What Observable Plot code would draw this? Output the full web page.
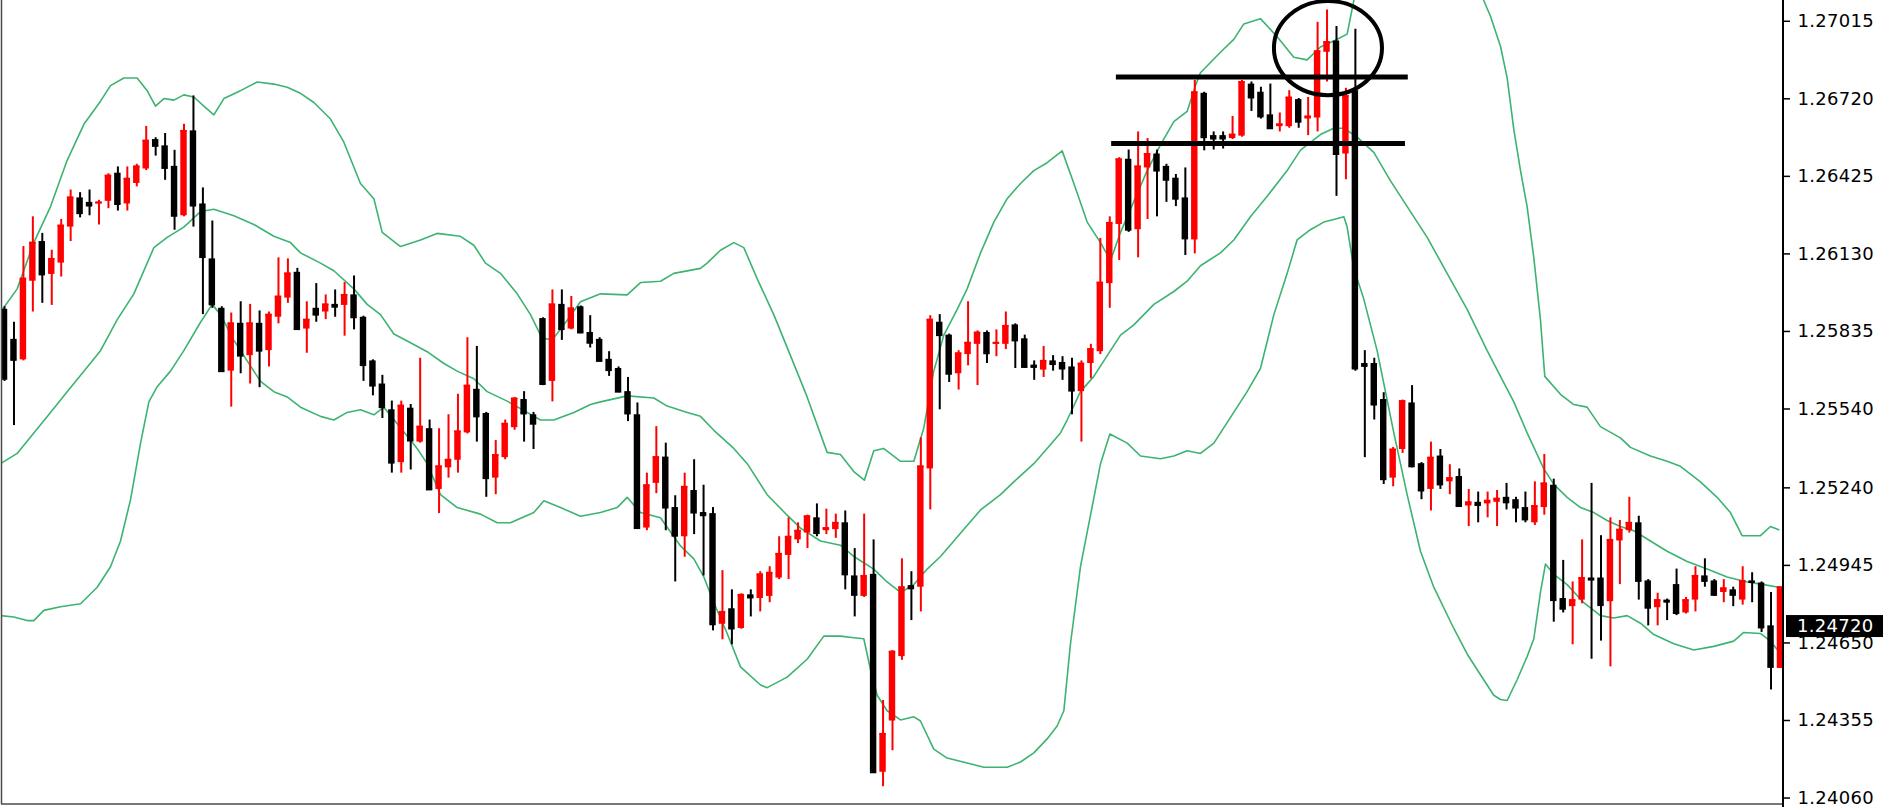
<!DOCTYPE html>
<html>
<head>
<meta charset="utf-8">
<script src="https://cdn.jsdelivr.net/npm/d3@7"></script>
<script src="https://cdn.jsdelivr.net/npm/@observablehq/plot@0.6"></script>
<style>
html, body { margin: 0; padding: 0; background: #fff; overflow: hidden; }
#chart svg { display: block; }
</style>
</head>
<body>
<div id="chart"></div>
<script>
// ---- Candle data (one entry per bar, oldest first) ----
const opens = [
1.25919,1.25805,1.25727,1.26026,1.26177,1.26052,1.26095,1.26232,1.26343,1.26326,
1.26320,1.26330,1.26437,1.26320,1.26398,1.26453,1.26565,1.26541,1.26463,1.26275,
1.26598,1.26320,1.26111,1.25923,1.25684,1.25866,1.25743,1.25866,1.25762,1.25889,
1.25962,1.26060,1.25844,1.25923,1.25909,1.25938,1.25934,1.25974,1.25889,1.25723,
1.25635,1.25537,1.25336,1.25543,1.25414,1.25465,1.25234,1.25316,1.25345,1.25449,
1.25615,1.25523,1.25277,1.25355,1.25469,1.25576,1.25518,1.25884,1.25645,1.25938,
1.25844,1.25929,1.25831,1.25805,1.25729,1.25694,1.25606,1.25518,1.25087,1.25257,
1.25357,1.25165,1.25054,1.25230,1.25146,1.25142,1.24721,1.24780,1.24705,1.24833,
1.24819,1.24827,1.24897,1.24983,1.25042,1.25068,1.25126,1.25077,1.25081,1.25107,
1.24905,1.24827,1.24911,1.24158,1.24353,1.24598,1.24868,1.24862,1.25312,1.25870,
1.25821,1.25674,1.25747,1.25786,1.25831,1.25786,1.25786,1.25860,1.25807,1.25707,
1.25688,1.25723,1.25717,1.25700,1.25606,1.25713,1.25758,1.26017,1.26242,1.26490,
1.26222,1.26457,1.26510,1.26463,1.26418,1.26343,1.26183,1.26741,1.26580,1.26580,
1.26569,1.26578,1.26776,1.26745,1.26659,1.26614,1.26614,1.26717,1.26643,1.26647,
1.26897,1.26940,1.26510,1.26751,1.25713,1.25713,1.25576,1.25277,1.25386,1.25563,
1.25332,1.25234,1.25361,1.25263,1.25283,1.25171,1.25185,1.25179,1.25185,1.25204,
1.25195,1.25165,1.25107,1.25165,1.25250,1.24819,1.24788,1.24813,1.24897,1.24897,
1.24807,1.25038,1.25077,1.25107,1.24886,1.24784,1.24813,1.24872,1.24764,1.24813,
1.24905,1.24886,1.24842,1.24852,1.24813,1.24886,1.24878,1.24715,1.24553
];
const highs = [
1.25929,1.25870,1.26158,1.26271,1.26208,1.26144,1.26261,1.26373,1.26363,1.26373,
1.26334,1.26435,1.26461,1.26461,1.26471,1.26615,1.26572,1.26588,1.26524,1.26623,
1.26731,1.26381,1.26255,1.25929,1.25905,1.25948,1.25938,1.25913,1.25909,1.26115,
1.26111,1.26075,1.25948,1.26017,1.25974,1.25993,1.26021,1.26046,1.25893,1.25727,
1.25668,1.25570,1.25570,1.25557,1.25733,1.25498,1.25465,1.25518,1.25596,1.25811,
1.25778,1.25527,1.25420,1.25498,1.25584,1.25606,1.25527,1.25887,1.25993,1.25993,
1.25968,1.25932,1.25895,1.25811,1.25758,1.25700,1.25660,1.25563,1.25296,1.25473,
1.25410,1.25210,1.25296,1.25347,1.25250,1.25165,1.24925,1.24852,1.24837,1.24852,
1.24921,1.24940,1.25054,1.25126,1.25107,1.25136,1.25179,1.25159,1.25140,1.25152,
1.25009,1.25140,1.25042,1.24431,1.24621,1.24970,1.24921,1.25430,1.25895,1.25899,
1.25825,1.25762,1.25948,1.25837,1.25837,1.25841,1.25909,1.25864,1.25821,1.25723,
1.25778,1.25743,1.25739,1.25733,1.25723,1.25786,1.26189,1.26271,1.26496,1.26525,
1.26594,1.26569,1.26525,1.26471,1.26432,1.26457,1.26790,1.26745,1.26594,1.26594,
1.26653,1.26790,1.26784,1.26764,1.26776,1.26666,1.26751,1.26721,1.26725,1.27011,
1.27058,1.26995,1.26760,1.26985,1.25762,1.25733,1.25602,1.25394,1.25574,1.25629,
1.25336,1.25414,1.25386,1.25328,1.25312,1.25234,1.25224,1.25224,1.25230,1.25257,
1.25204,1.25224,1.25263,1.25367,1.25273,1.24964,1.24882,1.25042,1.25257,1.25058,
1.25126,1.25116,1.25204,1.25132,1.24891,1.24839,1.24817,1.24931,1.24823,1.24940,
1.24970,1.24891,1.24891,1.24862,1.24940,1.24917,1.24882,1.24842,1.24862
];
const lows = [
1.25645,1.25477,1.25723,1.25909,1.25942,1.25934,1.26042,1.26177,1.26267,1.26275,
1.26240,1.26302,1.26293,1.26293,1.26385,1.26447,1.26502,1.26410,1.26220,1.26271,
1.26232,1.25899,1.25923,1.25680,1.25547,1.25674,1.25635,1.25621,1.25700,1.25864,
1.25942,1.25841,1.25752,1.25870,1.25880,1.25889,1.25817,1.25841,1.25645,1.25590,
1.25504,1.25296,1.25296,1.25308,1.25410,1.25230,1.25142,1.25277,1.25296,1.25445,
1.25414,1.25204,1.25214,1.25347,1.25459,1.25414,1.25386,1.25629,1.25567,1.25801,
1.25841,1.25827,1.25772,1.25719,1.25664,1.25602,1.25492,1.25083,1.25077,1.25218,
1.25077,1.24882,1.24976,1.25062,1.24905,1.24696,1.24662,1.24643,1.24702,1.24749,
1.24768,1.24803,1.24891,1.24891,1.25028,1.25009,1.25054,1.25062,1.25048,1.24852,
1.24749,1.24823,1.24154,1.24103,1.24240,1.24584,1.24735,1.24768,1.25156,1.25537,
1.25641,1.25612,1.25704,1.25629,1.25713,1.25739,1.25766,1.25694,1.25694,1.25649,
1.25660,1.25684,1.25649,1.25518,1.25414,1.25655,1.25747,1.25923,1.26105,1.26212,
1.26115,1.26261,1.26271,1.26326,1.26310,1.26124,1.26130,1.26522,1.26525,1.26529,
1.26565,1.26574,1.26672,1.26643,1.26604,1.26594,1.26608,1.26608,1.26580,1.26594,
1.26784,1.26349,1.26412,1.25684,1.25355,1.25498,1.25253,1.25244,1.25371,1.25316,
1.25195,1.25152,1.25234,1.25214,1.25165,1.25093,1.25107,1.25126,1.25093,1.25156,
1.25107,1.25107,1.25097,1.25136,1.24729,1.24764,1.24643,1.24799,1.24588,1.24657,
1.24559,1.24872,1.25068,1.24813,1.24715,1.24715,1.24735,1.24754,1.24760,1.24768,
1.24862,1.24827,1.24803,1.24788,1.24794,1.24803,1.24690,1.24471,1.24553
];
const closes = [
1.25655,1.25727,1.26036,1.26173,1.26052,1.26111,1.26238,1.26345,1.26285,1.26314,
1.26326,1.26428,1.26320,1.26416,1.26463,1.26561,1.26541,1.26457,1.26275,1.26598,
1.26314,1.26118,1.25938,1.25684,1.25866,1.25743,1.25866,1.25762,1.25899,1.25968,
1.26056,1.25844,1.25880,1.25899,1.25938,1.25929,1.25974,1.25889,1.25707,1.25629,
1.25547,1.25336,1.25553,1.25420,1.25473,1.25234,1.25322,1.25347,1.25455,1.25629,
1.25512,1.25277,1.25365,1.25484,1.25580,1.25523,1.25484,1.25635,1.25938,1.25844,
1.25923,1.25831,1.25792,1.25723,1.25688,1.25606,1.25523,1.25087,1.25250,1.25357,
1.25165,1.25058,1.25244,1.25146,1.25136,1.24721,1.24768,1.24705,1.24833,1.24823,
1.24911,1.24917,1.24989,1.25054,1.25077,1.25132,1.25068,1.25087,1.25107,1.24911,
1.24833,1.24905,1.24158,1.24304,1.24617,1.24862,1.24858,1.25322,1.25880,1.25821,
1.25674,1.25752,1.25792,1.25831,1.25752,1.25792,1.25856,1.25801,1.25700,1.25700,
1.25723,1.25711,1.25694,1.25610,1.25713,1.25768,1.26021,1.26248,1.26490,1.26222,
1.26463,1.26510,1.26447,1.26412,1.26340,1.26189,1.26745,1.26574,1.26569,1.26569,
1.26584,1.26784,1.26725,1.26653,1.26608,1.26623,1.26725,1.26633,1.26653,1.26901,
1.26936,1.26510,1.26731,1.25694,1.25704,1.25557,1.25273,1.25386,1.25570,1.25322,
1.25230,1.25355,1.25253,1.25277,1.25171,1.25185,1.25175,1.25191,1.25199,1.25185,
1.25165,1.25120,1.25171,1.25257,1.24813,1.24780,1.24813,1.24897,1.24891,1.24794,
1.25042,1.25081,1.25107,1.24886,1.24784,1.24813,1.24807,1.24764,1.24813,1.24905,
1.24886,1.24833,1.24858,1.24833,1.24886,1.24882,1.24709,1.24559,1.24862
];

// ---- Bollinger bands (bar position, price) ----
const upperX = [-0.42,1.34,3.10,4.87,6.63,8.40,10.16,11.22,12.63,14.04,15.10,15.98,16.87,17.93,18.98,20.04,21.10,22.16,23.22,24.98,26.75,28.51,29.92,31.33,32.75,34.51,35.92,37.68,39.10,39.98,41.92,44.04,45.79,48.26,49.68,50.91,52.50,54.27,55.68,56.74,57.44,58.15,59.21,60.97,63.09,65.91,67.32,69.44,70.85,73.67,74.38,75.79,77.20,78.26,79.67,81.43,83.20,84.96,87.08,88.49,89.90,91.02,92.02,93.05,94.85,96.26,97.32,98.37,99.43,100.85,101.90,103.32,104.73,106.14,107.55,108.96,110.37,111.96,113.20,114.61,116.02,117.08,118.14,119.55,120.96,122.37,123.78,125.19,126.07,126.60,128.72,130.13,131.19,132.95,134.72,136.48,137.89,139.30,140.71,142.13,142.83,144.0,146.0,148.5,151.0,153.5,155.5,156.60,157.30,158.36,159.07,159.77,160.48,161.18,161.89,162.59,163.05,164.71,166.12,167.53,168.94,171.06,172.12,174.23,176.00,177.41,179.53,181.29,182.70,183.94,185.88,186.94,187.82];
const upperY = [1.25909,1.25997,1.26173,1.26310,1.26486,1.26623,1.26711,1.26770,1.26799,1.26799,1.26751,1.26692,1.26721,1.26715,1.26735,1.26727,1.26692,1.26659,1.26721,1.26751,1.26784,1.26776,1.26764,1.26741,1.26706,1.26643,1.26555,1.26398,1.26340,1.26212,1.26158,1.26183,1.26208,1.26197,1.26163,1.26095,1.26056,1.25978,1.25899,1.25821,1.25805,1.25811,1.25860,1.25948,1.25978,1.25974,1.26021,1.26026,1.26056,1.26075,1.26095,1.26144,1.26173,1.26154,1.26036,1.25899,1.25743,1.25586,1.25375,1.25367,1.25302,1.25269,1.25381,1.25390,1.25341,1.25341,1.25469,1.25684,1.25821,1.25919,1.25997,1.26134,1.26251,1.26340,1.26398,1.26447,1.26477,1.26522,1.26398,1.26251,1.26173,1.26105,1.26212,1.26330,1.26447,1.26545,1.26633,1.26672,1.26770,1.26819,1.26897,1.26946,1.27005,1.27025,1.26956,1.26878,1.26868,1.26917,1.26940,1.26966,1.27093,1.2728,1.2742,1.2748,1.2745,1.2735,1.2720,1.27093,1.27034,1.26920,1.26799,1.26604,1.26447,1.26310,1.26115,1.25880,1.25664,1.25596,1.25557,1.25547,1.25473,1.25430,1.25394,1.25361,1.25341,1.25322,1.25263,1.25204,1.25146,1.25058,1.25058,1.25093,1.25081];

const middleX = [-0.42,1.34,3.10,4.87,6.63,8.40,10.16,11.93,13.69,15.81,17.22,18.98,20.75,22.16,24.28,26.39,28.51,30.27,31.33,33.45,34.86,36.98,38.39,39.80,41.22,42.98,44.74,46.51,47.92,49.68,51.09,53.21,55.33,56.74,58.15,60.27,62.03,63.09,65.91,68.74,70.15,72.27,73.67,75.09,77.20,78.62,80.73,82.85,84.26,86.38,88.49,89.90,92.02,93.43,94.85,96.26,97.67,99.08,100.49,101.90,103.32,105.43,106.84,108.96,110.37,111.78,112.49,113.90,115.31,116.73,118.14,119.55,121.67,123.78,125.19,126.60,128.72,130.13,131.89,133.66,135.78,137.19,139.30,140.71,141.78,143.19,144.95,146.72,148.83,150.60,152.71,154.83,156.95,158.36,159.77,161.18,162.95,164.01,165.42,166.83,168.24,169.65,171.06,172.47,174.23,176.00,178.12,180.24,182.35,184.47,186.23,187.82];
const middleY = [1.25332,1.25371,1.25449,1.25527,1.25606,1.25684,1.25762,1.25880,1.25978,1.26154,1.26193,1.26232,1.26291,1.26300,1.26275,1.26242,1.26197,1.26173,1.26134,1.26095,1.26066,1.25997,1.25938,1.25899,1.25825,1.25792,1.25758,1.25713,1.25684,1.25655,1.25606,1.25570,1.25527,1.25498,1.25498,1.25527,1.25557,1.25567,1.25590,1.25582,1.25551,1.25527,1.25512,1.25459,1.25390,1.25332,1.25214,1.25136,1.25087,1.25038,1.25022,1.24979,1.24931,1.24882,1.24842,1.24872,1.24931,1.24979,1.25038,1.25097,1.25156,1.25214,1.25263,1.25332,1.25390,1.25449,1.25498,1.25606,1.25664,1.25743,1.25821,1.25860,1.25938,1.25987,1.26026,1.26085,1.26134,1.26183,1.26271,1.26349,1.26447,1.26525,1.26584,1.26608,1.26608,1.26574,1.26516,1.26408,1.26291,1.26193,1.26056,1.25919,1.25762,1.25664,1.25567,1.25449,1.25312,1.25253,1.25204,1.25165,1.25146,1.25116,1.25093,1.25077,1.25038,1.24999,1.24960,1.24931,1.24901,1.24882,1.24872,1.24862];

const lowerX = [-0.42,0.99,2.40,3.10,4.16,5.93,8.05,9.81,11.22,12.28,13.34,14.40,15.28,16.16,17.57,18.98,20.75,21.98,22.87,24.28,25.69,27.10,28.51,29.92,31.33,33.45,34.86,36.27,37.68,39.10,40.15,41.92,43.68,44.74,46.15,47.92,50.39,52.15,53.56,56.03,57.09,58.85,60.97,63.09,64.85,65.91,67.32,69.44,71.56,72.97,74.03,75.09,76.50,77.91,80.03,80.73,82.85,84.96,86.73,88.49,89.90,90.96,91.67,92.38,93.43,94.85,96.26,96.96,98.37,99.78,101.90,103.67,106.14,107.55,108.96,110.37,111.43,112.14,112.84,113.90,114.96,116.02,117.01,118.85,120.26,122.37,123.78,125.19,126.60,128.02,129.78,131.54,132.95,134.37,135.78,136.83,138.24,139.65,140.71,141.78,142.13,142.83,143.89,145.30,147.07,148.48,149.89,151.30,153.42,154.83,156.24,157.65,158.36,159.07,160.12,161.18,161.89,162.59,163.12,164.01,165.42,167.18,168.94,170.36,171.77,173.18,174.59,176.71,178.82,180.94,183.05,184.11,185.88,186.94,187.82];
const lowerY = [1.24754,1.24749,1.24735,1.24735,1.24774,1.24788,1.24799,1.24862,1.24940,1.25038,1.25195,1.25410,1.25567,1.25625,1.25684,1.25762,1.25870,1.25938,1.25899,1.25801,1.25723,1.25645,1.25606,1.25586,1.25547,1.25512,1.25498,1.25527,1.25537,1.25518,1.25547,1.25469,1.25390,1.25332,1.25214,1.25165,1.25140,1.25107,1.25107,1.25146,1.25191,1.25165,1.25132,1.25146,1.25165,1.25204,1.25146,1.25126,1.25019,1.24970,1.24901,1.24803,1.24686,1.24559,1.24490,1.24480,1.24520,1.24588,1.24676,1.24676,1.24670,1.24666,1.24549,1.24451,1.24392,1.24357,1.24369,1.24353,1.24246,1.24212,1.24193,1.24177,1.24177,1.24197,1.24232,1.24285,1.24334,1.24392,1.24647,1.24940,1.25136,1.25332,1.25445,1.25410,1.25361,1.25351,1.25361,1.25381,1.25371,1.25410,1.25508,1.25606,1.25694,1.25899,1.26056,1.26183,1.26222,1.26251,1.26261,1.26271,1.26232,1.26075,1.25958,1.25762,1.25449,1.25214,1.24999,1.24862,1.24705,1.24608,1.24529,1.24451,1.24435,1.24431,1.24510,1.24598,1.24666,1.24842,1.24950,1.24911,1.24872,1.24803,1.24754,1.24745,1.24754,1.24725,1.24682,1.24647,1.24623,1.24637,1.24657,1.24690,1.24686,1.24657,1.24617];

// ---- Price axis ticks and current price ----
const tickValues = [1.27015,1.26720,1.26425,1.26130,1.25835,1.25540,1.25240,1.24945,1.24650,1.24355,1.24060];
const currentPrice = [1.24720];

// ---- Hand-drawn annotations (bar position, price) ----
const levelLines = [
  {x1: 117.7, x2: 148.6, price: 1.26803},
  {x1: 117.2, x2: 148.3, price: 1.26550}
];
const circleNote = [{x: 140.15, price: 1.26911, rx: 5.72, ry: 0.00179}];

// ---- Build tables ----
const UP = "#ff0000", DOWN = "#000000", BAND = "#3cb371";
const FONT = "'DejaVu Sans', Verdana, sans-serif";
const candles = opens.map((o, i) => ({
  i, open: o, high: highs[i], low: lows[i], close: closes[i],
  lo: Math.min(o, closes[i]), hi: Math.max(o, closes[i]),
  col: closes[i] > o ? UP : DOWN
}));
const toPts = (xs, ys) => xs.map((x, k) => ({x, v: ys[k]}));
const upperPts = toPts(upperX, upperY);
const middlePts = toPts(middleX, middleY);
const lowerPts = toPts(lowerX, lowerY);
const half = 0.34;

const plot = Plot.plot({
  width: 1883, height: 807,
  marginLeft: 1, marginRight: 100, marginTop: 0, marginBottom: 0,
  x: {type: "linear", domain: [-0.32, 188.32], axis: null},
  y: {type: "linear", domain: [1.24024, 1.27094], axis: null},
  color: {type: "identity"},
  style: {background: "#ffffff", fontFamily: FONT, fontSize: "18px", letterSpacing: "0.3px", color: "#000", overflow: "visible"},
  marks: [
    Plot.line(upperPts, {x: "x", y: "v", stroke: BAND, strokeWidth: 1.6, clip: true}),
    Plot.line(middlePts, {x: "x", y: "v", stroke: BAND, strokeWidth: 1.6, clip: true}),
    Plot.line(lowerPts, {x: "x", y: "v", stroke: BAND, strokeWidth: 1.6, clip: true}),
    Plot.ruleX(candles, {x: "i", y1: "low", y2: "high", stroke: "col", strokeWidth: 2, clip: true}),
    Plot.rect(candles, {x1: d => d.i - half, x2: d => d.i + half, y1: "lo", y2: "hi", fill: "col", clip: true}),
    Plot.ruleY(candles, {y: "close", x1: d => d.i - half, x2: d => d.i + half, stroke: "col", strokeWidth: 2, clip: true}),
    Plot.ruleY(levelLines, {y: "price", x1: "x1", x2: "x2", stroke: "#000", strokeWidth: 5}),
    Plot.axisY(tickValues, {anchor: "right", tickSize: 6, tickPadding: 8, tickFormat: d3.format(".5f"), stroke: "#000", fill: "#000", strokeWidth: 1.5, fontSize: 18})
  ]
});

document.getElementById("chart").appendChild(plot);

// ---- Frame, annotations and current-price tag drawn with the plot's own scales ----
const sx = plot.scale("x"), sy = plot.scale("y");
const [xl, xr] = sx.range;
const [yb, yt] = sy.range;
const svg = d3.select(plot);

svg.append("line").attr("x1", xl + 0.5).attr("x2", xl + 0.5).attr("y1", yt).attr("y2", yb - 3)
  .attr("stroke", "#4a4a4a").attr("stroke-width", 1.5);
svg.append("line").attr("x1", xl).attr("x2", xr).attr("y1", yb - 3).attr("y2", yb - 3)
  .attr("stroke", "#4a4a4a").attr("stroke-width", 1.5);
svg.append("line").attr("x1", xr).attr("x2", xr).attr("y1", yt).attr("y2", yb)
  .attr("stroke", "#000").attr("stroke-width", 2);

circleNote.forEach(c => {
  const cx = sx.apply(c.x), cy = sy.apply(c.price);
  svg.append("ellipse")
    .attr("cx", cx).attr("cy", cy)
    .attr("rx", sx.apply(c.x + c.rx) - cx)
    .attr("ry", cy - sy.apply(c.price + c.ry))
    .attr("fill", "none").attr("stroke", "#000").attr("stroke-width", 4);
});

currentPrice.forEach(p => {
  const cy = sy.apply(p);
  svg.append("rect").attr("x", xr + 3).attr("y", cy - 9).attr("width", 1883 - xr - 3).attr("height", 22).attr("fill", "#000");
  svg.append("text").attr("x", xr + 14).attr("y", cy + 2).attr("dy", "0.35em")
    .attr("text-anchor", "start")
    .attr("fill", "#fff").style("font-family", FONT)
    .style("font-size", "18px").style("letter-spacing", "0.3px")
    .text(d3.format(".5f")(p));
});
</script>
</body>
</html>
